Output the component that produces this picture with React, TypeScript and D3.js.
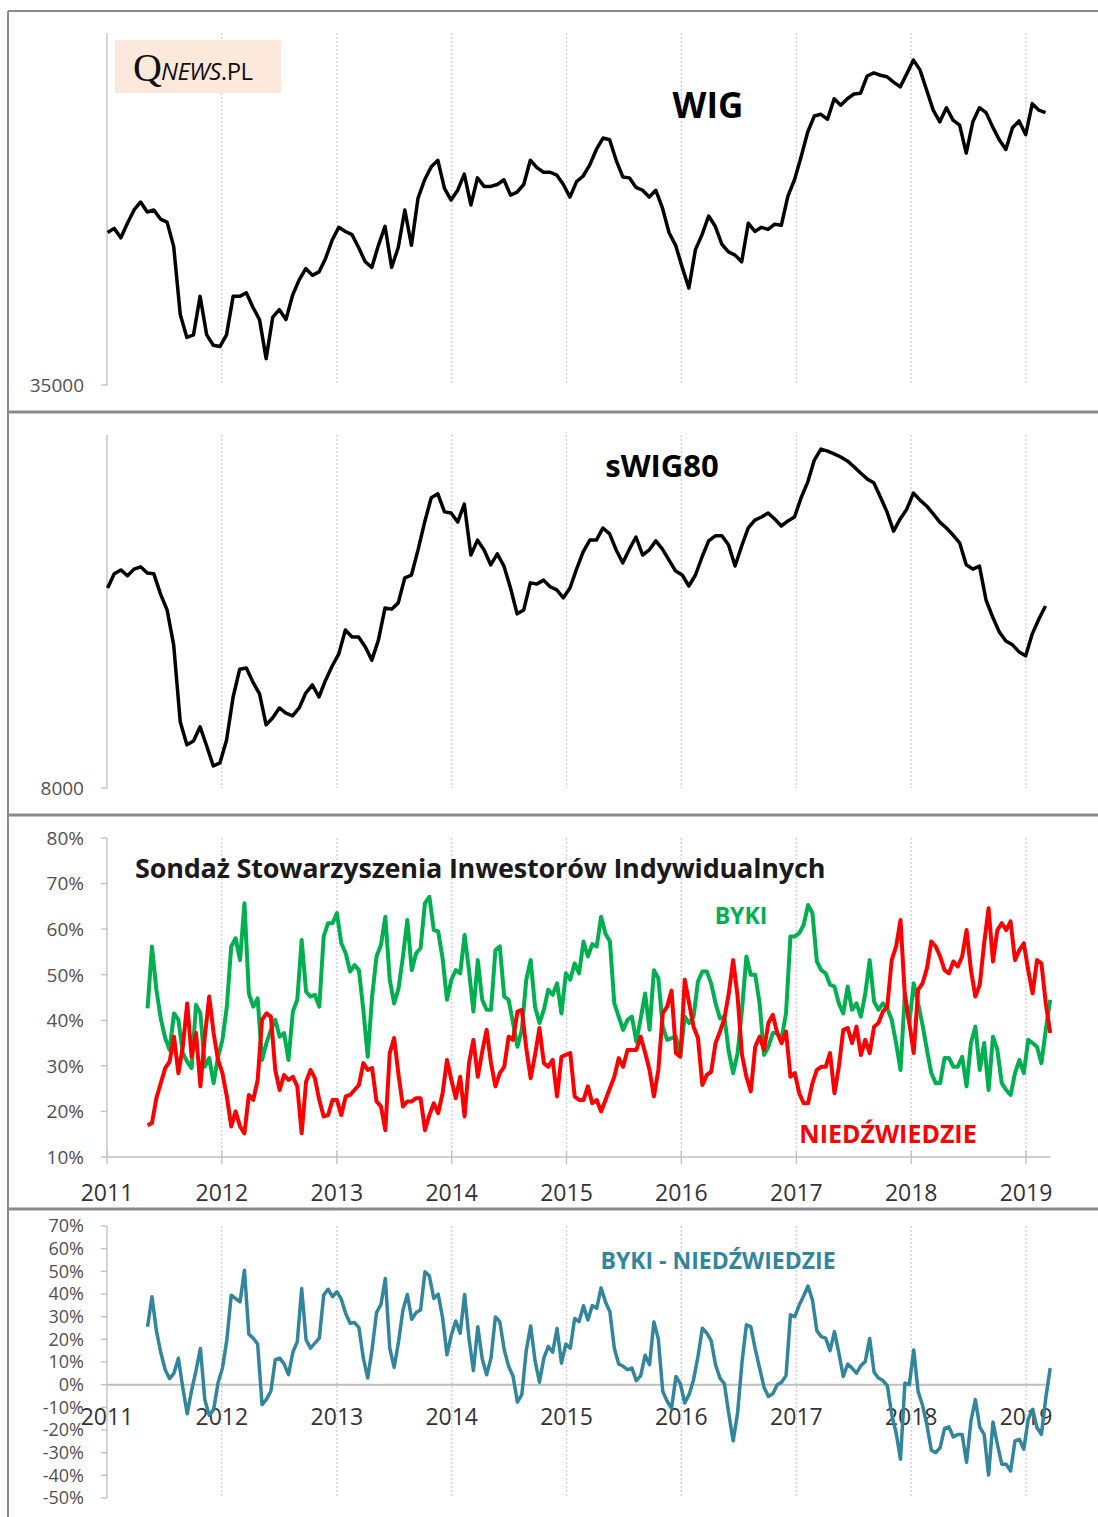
import React from 'react';
import * as d3 from 'd3';

// time axis
const years = [2011, 2012, 2013, 2014, 2015, 2016, 2017, 2018, 2019];

// WIG, every 3 weeks from 2011-01-03
const wig = [
  47500, 47900, 47000, 48400, 49700, 50500, 49500, 49700, 48800, 48500,
  46200, 40300, 38500, 38700, 41800, 38700, 37900, 37800, 38700, 41800,
  41800, 42100, 40900, 39900, 36900, 40100, 40700, 39900, 41900, 43200,
  44200, 43600, 43900, 45100, 46800, 48000, 47600, 47300, 46100, 44800,
  44300, 46300, 48100, 44300, 46100, 49700, 46300, 50900, 52800, 54200,
  54900, 51900, 50700, 51700, 53400, 50200, 53000, 52100, 52100, 52300,
  52800, 51200, 51500, 52300, 54900, 54100, 53600, 53600, 53300, 52300,
  51000, 52600, 53200, 54400, 56100, 57400, 57200, 54900, 53100, 53000,
  52000, 51700, 51000, 51700, 49900, 47500, 46300, 44300, 42500, 45900,
  47300, 49100, 48100, 46400, 45700, 45400, 44800, 48400, 47600, 48000,
  47800, 48300, 48200, 51100, 52800, 55300, 58100, 60000, 60200, 59600,
  62100, 61300, 62100, 62700, 62800, 65000, 65400, 65100, 64900, 64200,
  63600, 65300, 67100, 65800, 63200, 60700, 59300, 61000, 59500, 58900,
  55700, 59300, 61000, 60400, 58700, 57200, 56100, 58600, 59400, 57800,
  61500, 60700, 60400,
];

// sWIG80, every 3 weeks from 2011-01-03
const swig80 = [
  13100, 13460, 13560, 13410, 13580, 13640, 13480, 13460, 12950, 12540,
  11650, 9680, 9100, 9200, 9560, 9070, 8560, 8640, 9220, 10320,
  11030, 11060, 10700, 10400, 9610, 9790, 10040, 9910, 9840, 10040,
  10420, 10630, 10320, 10750, 11110, 11420, 12030, 11850, 11850, 11600,
  11260, 11770, 12590, 12560, 12720, 13360, 13430, 14070, 14780, 15400,
  15500, 15040, 15010, 14780, 15240, 13940, 14320, 14070, 13690, 13970,
  13660, 13100, 12440, 12540, 13230, 13200, 13300, 13130, 13050, 12850,
  13100, 13580, 14020, 14320, 14320, 14630, 14480, 14070, 13740, 14090,
  14400, 13940, 14070, 14300, 14090, 13810, 13530, 13430, 13150, 13430,
  13890, 14300, 14430, 14430, 14200, 13660, 14170, 14630, 14830, 14910,
  15010, 14860, 14680, 14810, 14910, 15400, 15800, 16360, 16640, 16590,
  16520, 16440, 16340, 16190, 16030, 15880, 15780, 15420, 15040, 14550,
  14860, 15110, 15520, 15340, 15190, 14990, 14780, 14630, 14450, 14250,
  13690, 13580, 13660, 12790, 12360, 11980, 11750, 11650, 11470, 11370,
  11930, 12310, 12640,
];

// SII survey (%), every 2 weeks from 2011-05-10
const byki = [
  42.6, 56.2, 46.7, 40.4, 36.1, 33.5, 41.5, 40.1, 32.8, 30.9,
  29.5, 43.4, 41.5, 29.8, 31.7, 26.2, 32.0, 35.7, 43.0, 56.2,
  58.0, 53.2, 65.7, 45.9, 43.0, 44.8, 31.3, 35.0, 37.9, 40.1,
  36.4, 37.2, 31.3, 41.9, 44.5, 57.6, 46.3, 45.2, 45.6, 43.0,
  58.4, 61.3, 61.3, 63.5, 56.9, 54.7, 50.7, 52.1, 51.0, 42.3,
  32.0, 45.2, 54.0, 56.5, 62.7, 48.9, 43.7, 47.0, 54.0, 62.0,
  51.0, 54.7, 55.8, 65.7, 67.1, 59.8, 59.5, 53.6, 44.5, 48.9,
  51.0, 50.3, 58.7, 51.0, 41.9, 53.2, 44.5, 42.3, 42.3, 55.4,
  56.2, 45.2, 44.5, 39.4, 34.2, 37.9, 48.9, 53.2, 43.0, 39.4,
  42.3, 46.7, 45.6, 48.1, 41.5, 50.3, 48.9, 52.5, 50.3, 57.3,
  54.0, 56.7, 56.2, 62.7, 59.0, 57.3, 43.7, 40.8, 37.9, 40.1,
  40.8, 35.3, 40.4, 45.9, 37.9, 51.0, 49.2, 38.6, 35.7, 36.1,
  36.4, 32.4, 40.8, 39.4, 40.8, 48.5, 50.7, 50.7, 48.1, 43.7,
  40.4, 40.8, 33.1, 28.4, 32.8, 42.3, 54.0, 50.0, 50.0, 43.7,
  32.4, 34.2, 37.2, 37.2, 36.1, 41.5, 58.4, 58.4, 59.1, 60.9,
  65.3, 63.5, 52.9, 51.0, 50.3, 47.8, 47.4, 43.7, 41.5, 47.4,
  42.3, 43.7, 40.8, 45.9, 53.2, 44.1, 42.3, 43.7, 42.6, 40.1,
  35.0, 29.1, 45.9, 39.4, 48.1, 43.7, 39.0, 33.5, 28.4, 26.2,
  26.2, 31.7, 31.7, 29.8, 29.8, 32.0, 25.5, 35.0, 38.6, 29.1,
  35.0, 24.7, 36.4, 33.5, 26.2, 24.7, 23.6, 28.4, 31.3, 28.4,
  35.7, 35.0, 34.2, 30.6, 37.9, 44.5,
];

const niedzwiedzie = [
  17.0, 17.4, 22.9, 26.2, 29.5, 30.9, 36.4, 28.4, 34.2, 43.7,
  32.0, 37.2, 25.5, 36.4, 45.2, 37.2, 31.3, 28.4, 23.3, 16.7,
  20.0, 16.7, 15.2, 23.6, 22.5, 26.9, 40.1, 41.5, 40.8, 29.1,
  24.7, 28.0, 26.9, 27.6, 25.5, 15.2, 26.5, 29.1, 27.3, 22.5,
  18.9, 19.2, 22.5, 22.5, 19.2, 23.3, 23.6, 24.7, 25.8, 30.6,
  29.1, 29.5, 22.2, 21.1, 15.9, 32.8, 36.1, 28.0, 21.1, 22.2,
  22.2, 22.9, 22.9, 15.9, 19.2, 21.8, 19.6, 24.0, 31.3, 26.9,
  22.9, 27.6, 18.9, 30.6, 35.7, 27.6, 33.1, 37.9, 30.6, 25.5,
  28.4, 29.8, 36.4, 35.7, 41.9, 42.3, 33.9, 27.3, 32.4, 38.3,
  30.6, 29.8, 31.3, 23.3, 32.0, 32.4, 32.8, 23.3, 22.5, 22.5,
  25.5, 21.8, 22.5, 20.0, 22.5, 25.1, 27.6, 31.7, 29.8, 33.5,
  33.5, 33.5, 36.4, 32.9, 29.1, 23.3, 29.1, 41.5, 43.0, 46.5,
  32.8, 32.0, 48.9, 43.7, 38.6, 36.1, 25.8, 28.0, 28.7, 35.0,
  37.5, 40.4, 45.9, 53.2, 45.2, 32.4, 27.6, 24.4, 34.2, 36.4,
  33.5, 39.4, 41.2, 37.2, 35.0, 37.5, 27.6, 28.4, 24.0, 21.8,
  21.8, 26.2, 29.1, 29.8, 29.8, 32.8, 24.0, 29.8, 37.9, 38.3,
  35.0, 38.6, 32.4, 35.7, 32.8, 38.6, 39.4, 41.9, 43.0, 53.2,
  56.2, 62.0, 45.2, 39.4, 32.8, 46.7, 48.1, 51.4, 57.3, 56.2,
  54.0, 51.0, 50.3, 52.9, 51.8, 54.0, 59.8, 51.0, 45.2, 47.8,
  56.9, 64.6, 52.9, 59.8, 61.3, 59.8, 61.7, 53.2, 55.4, 56.9,
  51.0, 45.9, 53.2, 52.5, 43.7, 37.2,
];

const surveyTicks = [10, 20, 30, 40, 50, 60, 70, 80];
const spreadTicks = [-50, -40, -30, -20, -10, 0, 10, 20, 30, 40, 50, 60, 70];

const FONT = "'Open Sans', 'Noto Sans', 'DejaVu Sans', sans-serif";
const AXIS = '#bfbfbf';
const GRID = '#cfcfcf';
const LABEL = '#505050';
const GREEN = '#00b050';
const RED = '#ff0000';
const TEAL = '#31859c';

function YearGrid({x, top, bottom}) {
    return (
        <g>
            {years.slice(1).map((yr) =>
                <line key={`g_${yr}`} x1={x(new Date(yr, 0, 1))} x2={x(new Date(yr, 0, 1))} y1={top} y2={bottom}
                    stroke={GRID} strokeWidth={1.3} strokeDasharray="2,2" />
            )}
        </g>
    )
}

function LeftAxis({scale, ticks, fmt, x0, fontSize = 19, tickLen = 6, top, bottom}) {
    return (
        <g>
            <line x1={x0} x2={x0} y1={top} y2={bottom} stroke={AXIS} strokeWidth={1.3} />
            {ticks.map((t) =>
                <g key={`t_${t}`} transform={`translate(${x0}, ${scale(t)})`}>
                    <line x1={-tickLen} x2={0} y1={0} y2={0} stroke={AXIS} strokeWidth={1.3} />
                    <text x={-23} y={0} dy="0.36em" textAnchor="end" fill={LABEL} fontFamily={FONT} fontSize={fontSize}>{fmt(t)}</text>
                </g>
            )}
        </g>
    )
}

function YearLabels({x, y, fontSize = 23}) {
    return (
        <g>
            {years.map((yr) =>
                <text key={`y_${yr}`} x={x(new Date(yr, 0, 1))} y={y} textAnchor="middle" fill="#333" fontFamily={FONT} fontSize={fontSize}>{yr}</text>
            )}
        </g>
    )
}

export default function App() {
    const width = 1098, height = 1517;

    const x = d3.scaleTime()
                .domain([new Date(2011, 0, 1), new Date(2019, 0, 1)])
                .range([107, 1026]);

    const indexDates = wig.map((_, i) => new Date(2011, 0, 3 + i * 21));
    const surveyDates = byki.map((_, i) => new Date(2011, 4, 10 + i * 14));
    const spread = byki.map((v, i) => v - niedzwiedzie[i]);
    const xEnd = x(surveyDates[surveyDates.length - 1]);

    const yWig = d3.scaleLog().domain([35000, 70000]).range([385, 39]);
    const ySwig = d3.scaleLinear().domain([8000, 17000]).range([788, 435]);
    const ySurvey = d3.scaleLinear().domain([10, 80]).range([1157, 838]);
    const ySpread = d3.scaleLinear().domain([-50, 70]).range([1498, 1226]);

    const lineOf = (dates, values, y) => d3.line()
        .x((d, i) => x(dates[i]))
        .y((d) => y(d))(values);

    const pct = (v) => `${v}%`;

    return (
        <svg width={width} height={height} xmlns="http://www.w3.org/2000/svg"
            style={{position: 'absolute', left: 0, top: 0, background: '#fff'}}>
            <rect x={0} y={0} width={width} height={height} fill="#fff" />

            {/* panel frames */}
            <line x1={8} x2={width} y1={11} y2={11} stroke="#8a8a8a" strokeWidth={2} />
            <line x1={8} x2={8} y1={11} y2={height} stroke="#8a8a8a" strokeWidth={2} />
            {[412, 815, 1209].map((yy) =>
                <line key={`sep_${yy}`} x1={8} x2={width} y1={yy} y2={yy} stroke="#8a8a8a" strokeWidth={3} />
            )}

            {/* WIG */}
            <YearGrid x={x} top={33} bottom={385} />
            <LeftAxis scale={yWig} ticks={[35000]} fmt={(v) => v} x0={107} top={33} bottom={385} />
            <rect x={115} y={40} width={166} height={53} fill="#fce9dc" />
            <text x={133} y={81} fontFamily="'Liberation Serif', 'DejaVu Serif', serif" fontSize={40} fill="#111">Q</text>
            <text x={161} y={80} fontFamily={FONT} fontSize={24} fill="#111" letterSpacing={-0.5}>
                <tspan fontStyle="italic">NEWS</tspan><tspan>.PL</tspan>
            </text>
            <path d={lineOf(indexDates, wig, yWig)} fill="none" stroke="#000" strokeWidth={3.5} strokeLinejoin="round" />
            <text x={708} y={118} textAnchor="middle" fontFamily={FONT} fontWeight="bold" fontSize={35} fill="#000">WIG</text>

            {/* sWIG80 */}
            <YearGrid x={x} top={435} bottom={788} />
            <LeftAxis scale={ySwig} ticks={[8000]} fmt={(v) => v} x0={107} top={435} bottom={788} />
            <path d={lineOf(indexDates, swig80, ySwig)} fill="none" stroke="#000" strokeWidth={3.5} strokeLinejoin="round" />
            <text x={662} y={477} textAnchor="middle" fontFamily={FONT} fontWeight="bold" fontSize={31} fill="#000">sWIG80</text>

            {/* survey */}
            <YearGrid x={x} top={838} bottom={1157} />
            <LeftAxis scale={ySurvey} ticks={surveyTicks} fmt={pct} x0={107} top={838} bottom={1157} />
            <line x1={107} x2={xEnd} y1={1157} y2={1157} stroke={AXIS} strokeWidth={1.3} />
            {years.map((yr) =>
                <line key={`xt_${yr}`} x1={x(new Date(yr, 0, 1))} x2={x(new Date(yr, 0, 1))} y1={1151} y2={1164} stroke={AXIS} strokeWidth={1.3} />
            )}
            <YearLabels x={x} y={1201} />
            <path d={lineOf(surveyDates, byki, ySurvey)} fill="none" stroke={GREEN} strokeWidth={4} strokeLinejoin="round" />
            <path d={lineOf(surveyDates, niedzwiedzie, ySurvey)} fill="none" stroke={RED} strokeWidth={4} strokeLinejoin="round" />
            <text x={135} y={878} fontFamily={FONT} fontWeight="bold" fontSize={27} fill="#1a1a1a" letterSpacing={-0.2}>Sondaż Stowarzyszenia Inwestorów Indywidualnych</text>
            <text x={741} y={924} textAnchor="middle" fontFamily={FONT} fontWeight="bold" fontSize={23} fill={GREEN}>BYKI</text>
            <text x={888} y={1143} textAnchor="middle" fontFamily={FONT} fontWeight="bold" fontSize={25} fill={RED}>NIEDŹWIEDZIE</text>

            {/* spread */}
            <YearGrid x={x} top={1226} bottom={1498} />
            <LeftAxis scale={ySpread} ticks={spreadTicks} fmt={pct} x0={107} fontSize={18} top={1226} bottom={1498} />
            <line x1={107} x2={xEnd} y1={ySpread(0)} y2={ySpread(0)} stroke={AXIS} strokeWidth={2} />
            <YearLabels x={x} y={1425} />
            <path d={lineOf(surveyDates, spread, ySpread)} fill="none" stroke={TEAL} strokeWidth={3.5} strokeLinejoin="round" />
            <text x={718} y={1269} textAnchor="middle" fontFamily={FONT} fontWeight="bold" fontSize={23} fill={TEAL}>BYKI - NIEDŹWIEDZIE</text>
        </svg>
    )
}
